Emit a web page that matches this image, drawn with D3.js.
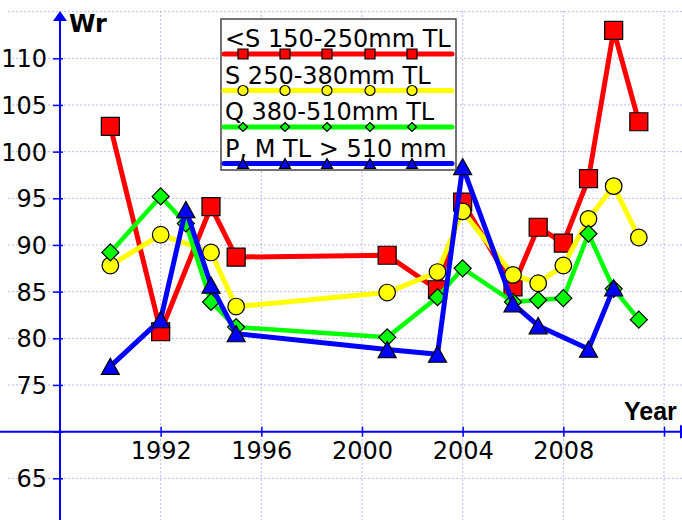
<!DOCTYPE html>
<html><head><meta charset="utf-8">
<script src="https://cdn.jsdelivr.net/npm/d3@7"></script>
<style>body{margin:0;background:#fff}svg{display:block;font-family:"DejaVu Sans",Verdana,sans-serif}</style>
</head><body><svg id="c" width="682" height="520"></svg>
<script>
const seriesNames = ["<S 150-250mm TL", "S 250-380mm TL", "Q 380-510mm TL", "P, M TL > 510 mm"];
const redYears = [1990,1992,1994,1995,2001,2003,2004,2006,2007,2008,2009,2010,2011];
const redValues = [102.7,80.7,94.1,88.7,88.9,85.2,94.6,85.5,91.9,90.2,97.1,113.0,103.2];
const yellowYears = [1990,1992,1994,1995,2001,2003,2004,2006,2007,2008,2009,2010,2011];
const yellowValues = [87.8,91.1,89.2,83.4,84.9,87.1,93.6,86.8,85.9,87.8,92.8,96.3,90.8];
const greenYears = [1990,1992,1993,1994,1995,2001,2003,2004,2006,2007,2008,2009,2010,2011];
const greenValues = [89.2,95.2,92.3,83.9,81.2,80.1,84.4,87.5,83.9,84.1,84.3,91.2,85.3,82.0];
const blueYears = [1990,1992,1993,1994,1995,2001,2003,2004,2006,2007,2009,2010];
const blueValues = [77.0,82.0,93.8,85.7,80.5,78.8,78.3,98.4,83.7,81.35,78.85,85.4];
const xTickValues = [1992,1996,2000,2004,2008,2012];
const xTickLabels = ["1992","1996","2000","2004","2008",""];
const yTickValues = [65,70,75,80,85,90,95,100,105,110];
const yTickLabels = ["65","","75","80","85","90","95","100","105","110"];
const yAxisTitle = "Wr", xAxisTitle = "Year";

const svg = d3.select("#c");
const x = d3.scaleLinear().domain([1988, 2012]).range([60, 664]);
const y = d3.scaleLinear().domain([65, 110]).range([478.3, 58.3]);
const axisColor = "#0000ff";
const gridColor = "#b8b8ff";
const FONT = "DejaVu Sans, Verdana, sans-serif";

// grid
const g = svg.append("g");
g.selectAll("line.h").data(d3.range(65, 116, 5)).join("line")
  .attr("x1", 8).attr("x2", 682).attr("y1", d => y(d)).attr("y2", d => y(d))
  .attr("stroke", gridColor).attr("stroke-width", 1).attr("stroke-dasharray", "2,2");
g.selectAll("line.v").data(d3.range(1992, 2013, 4)).join("line")
  .attr("y1", 11).attr("y2", 520).attr("x1", d => x(d)).attr("x2", d => x(d))
  .attr("stroke", gridColor).attr("stroke-width", 1).attr("stroke-dasharray", "2,2");

// axes
const y0 = y(70), x0 = x(1988);
const xa = svg.append("g").attr("transform", `translate(0,${y0})`)
  .call(d3.axisBottom(x).tickValues(xTickValues).tickFormat((d,i) => xTickLabels[i]).tickSize(6).tickPadding(4));
xa.select(".domain").remove();
xa.selectAll(".tick line").attr("y1", -5).attr("y2", 5).attr("stroke", axisColor).attr("stroke-width", 1.5);
xa.selectAll(".tick text").attr("font-size", 24).attr("fill", "#000").attr("font-family", FONT).attr("dy", "0.74em");

const ya = svg.append("g").attr("transform", `translate(${x0},0)`)
  .call(d3.axisLeft(y).tickValues(yTickValues).tickFormat((d,i) => yTickLabels[i]).tickSize(7).tickPadding(6));
ya.select(".domain").remove();
ya.selectAll(".tick line").attr("x1", -7).attr("x2", 3).attr("stroke", axisColor).attr("stroke-width", 1.5);
ya.selectAll(".tick text").attr("font-size", 24).attr("fill", "#000").attr("font-family", FONT).attr("dy", "0.36em");

svg.append("line").attr("x1", 0).attr("x2", 682).attr("y1", y0).attr("y2", y0).attr("stroke", axisColor).attr("stroke-width", 2);
svg.append("line").attr("x1", x0).attr("x2", x0).attr("y1", 16).attr("y2", 520).attr("stroke", axisColor).attr("stroke-width", 2);
svg.append("path").attr("d", `M${x0},11 L${x0-7},21 L${x0+7},21 Z`).attr("fill", axisColor);
svg.append("path").attr("d", `M692,${y0} L680,${y0-7} L680,${y0+7} Z`).attr("fill", axisColor);

svg.append("text").attr("x", 69).attr("y", 32).attr("font-size", 24).attr("font-weight", "bold").text(yAxisTitle);
svg.append("text").attr("x", 624).attr("y", 420).attr("font-size", 25).attr("font-weight", "bold")
  .attr("font-family", "Liberation Sans, Arial, sans-serif").text(xAxisTitle);

// markers
function marker(sel, type, s, fill) {
  let p;
  if (type === "square") p = `M${-s},${-s}h${2*s}v${2*s}h${-2*s}Z`;
  else if (type === "circle") p = d3.symbol(d3.symbolCircle, Math.PI*s*s)();
  else if (type === "diamond") p = `M0,${-s}L${s},0L0,${s}L${-s},0Z`;
  else p = `M0,${-s*0.9}L${s},${s*0.9}L${-s},${s*0.9}Z`;
  sel.append("path").attr("d", p).attr("fill", fill).attr("stroke", "#000").attr("stroke-width", 1.2);
}

const series = [
  {years: redYears, values: redValues, color: "#ff0000", type: "square", s: 9, ls: 5},
  {years: yellowYears, values: yellowValues, color: "#ffff00", type: "circle", s: 8.3, ls: 5},
  {years: greenYears, values: greenValues, color: "#00ff00", type: "diamond", s: 8.5, ls: 4.5},
  {years: blueYears, values: blueValues, color: "#0000ff", type: "triangle", s: 9, ls: 5}
];
const line = d3.line().x(d => x(d[0])).y(d => y(d[1]));
series.forEach(sr => {
  const pts = sr.years.map((yr, i) => [yr, sr.values[i]]);
  svg.append("path").attr("d", line(pts)).attr("fill", "none").attr("stroke", sr.color)
    .attr("stroke-width", sr.ls).attr("stroke-linejoin", "round").attr("stroke-linecap", "round");
  pts.forEach(p => {
    const m = svg.append("g").attr("transform", `translate(${x(p[0])},${y(p[1])})`);
    marker(m, sr.type, sr.s, sr.color);
  });
});

// legend
const lg = svg.append("g");
lg.append("rect").attr("x", 221).attr("y", 19).attr("width", 235).attr("height", 151)
  .attr("fill", "#fff").attr("stroke", "#444").attr("stroke-width", 1.5);
const legSizes = [5, 5, 4.5, 5.5];
series.forEach((sr, i) => {
  const ly = 54 + i * 36.5;
  lg.append("text").attr("x", 225).attr("y", ly - 7).attr("font-size", 24).text(seriesNames[i]);
  lg.append("line").attr("x1", 224).attr("x2", 452).attr("y1", ly).attr("y2", ly)
    .attr("stroke", sr.color).attr("stroke-width", 5).attr("stroke-linecap", "round");
  [243, 285, 327, 370, 412].forEach(mx => {
    const m = lg.append("g").attr("transform", `translate(${mx},${ly})`);
    marker(m, sr.type, legSizes[i], sr.color);
  });
});
</script></body></html>
